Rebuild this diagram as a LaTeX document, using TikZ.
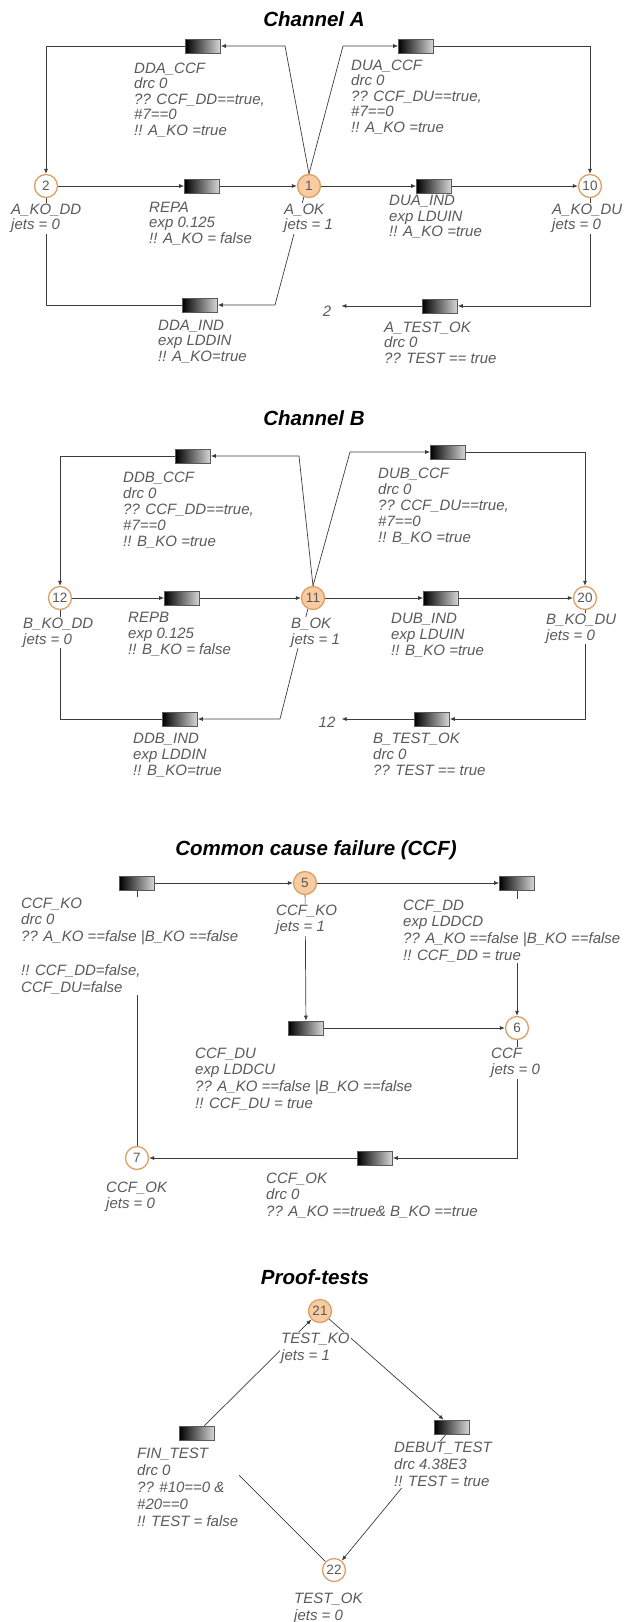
\documentclass[tikz,border=0pt]{standalone}
\usepackage{fontspec}
\setmainfont{Liberation Sans}
\usetikzlibrary{arrows.meta,calc}
\pgfdeclarelayer{bg}
\pgfsetlayers{bg,main}
\definecolor{lblgray}{RGB}{90,90,90}
\definecolor{linegray}{RGB}{60,60,60}
\definecolor{peach}{RGB}{248,204,160}
\definecolor{orangeb}{RGB}{218,160,100}
\definecolor{boxborder}{RGB}{90,90,90}
\newcommand\lblfA{\itshape\fontsize{15}{15.5}\selectfont}
\newcommand\lblfB{\itshape\fontsize{15}{16.2}\selectfont}
\newcommand\lblfC{\itshape\fontsize{15}{16.8}\selectfont}
\newcommand\lblfP{\itshape\fontsize{15}{17.2}\selectfont}
\tikzset{
  place/.style={circle, minimum size=23pt, inner sep=0pt, draw=orangeb, line width=1.3pt, fill=white, text=lblgray, font=\fontsize{13.5}{13.5}\selectfont},
  marked/.style={place, fill=peach},
  trans/.style={rectangle, minimum width=35pt, minimum height=14pt, inner sep=0pt, draw=boxborder, line width=0.6pt, left color=black, right color=white!85!black},
  arc/.style={draw=linegray, line width=0.7pt, -{Latex[length=5pt,width=4pt]}},
  plain/.style={draw=linegray, line width=0.7pt},
  lbl/.style={anchor=north west, align=left, font=\lblfA, text=lblgray, fill=white, inner sep=1pt},
  lblB/.style={lbl, font=\lblfB},
  lblC/.style={lbl, font=\lblfC},
  lblP/.style={lbl, font=\lblfP},
  ttl/.style={font=\bfseries\itshape\fontsize{20.5}{22}\selectfont, text=black},
  endtxt/.style={font=\lblfA, text=lblgray, inner sep=1pt},
}
\begin{document}
\begin{tikzpicture}[x=1pt,y=-1pt]
\useasboundingbox (0,0) rectangle (624,1622);

% ================= Channel A =================
\node[ttl] (tA) at (314,19) {Channel A};
\node[place]  (p2)  at (46,186)  {2};
\node[marked] (p1)  at (309,186) {1};
\node[place]  (p10) at (590,186) {10};
\node[trans] (tDDACCF) at (203,46) {};
\node[trans] (tDUACCF) at (416,46) {};
\node[trans] (tREPA)   at (202,186) {};
\node[trans] (tDUAIND) at (434,186) {};
\node[trans] (tDDAIND) at (200,305) {};
\node[trans] (tATEST)  at (440,306) {};
\node[endtxt] (toA2) at (327,311) {2};
\coordinate (cA1) at (285,46);
\coordinate (cA3) at (343,46);
\coordinate (cA5) at (275,305);

\node[lbl] (lDDACCF) at (133,61.5) {DDA\_CCF\\drc 0\\?? CCF\_DD==true,\\\#7==0\\!! A\_KO =true};
\node[lbl] (lDUACCF) at (350,58.5) {DUA\_CCF\\drc 0\\?? CCF\_DU==true,\\\#7==0\\!! A\_KO =true};
\node[lbl] (lREPA) at (148,200.5) {REPA\\exp 0.125\\!! A\_KO = false};
\node[lbl] (lDUAIND) at (388,194) {DUA\_IND\\exp LDUIN\\!! A\_KO =true};
\node[lbl] (lDDAIND) at (157,318.5) {DDA\_IND\\exp LDDIN\\!! A\_KO=true};
\node[lbl] (lATEST) at (383,320.5) {A\_TEST\_OK\\drc 0\\?? TEST == true};
\node[lbl] (lp2) at (10,202.5) {A\_KO\_DD\\jets = 0};
\node[lbl] (lp1) at (283,202.5) {A\_OK\\jets = 1};
\node[lbl] (lp10) at (551,202.5) {A\_KO\_DU\\jets = 0};

\begin{pgfonlayer}{bg}
\draw[arc] (p1.north) -- (cA1) -- (tDDACCF.east);
\draw[arc] (tDDACCF.west) -| (p2.north);
\draw[arc] (p1.north) -- (cA3) -- (tDUACCF.west);
\draw[arc] (tDUACCF.east) -| (p10.north);
\draw[arc] (p2) -- (tREPA);
\draw[arc] (tREPA) -- (p1);
\draw[arc] (p1) -- (tDUAIND);
\draw[arc] (tDUAIND) -- (p10);
\draw[arc] (p1.245) -- (cA5) -- (tDDAIND.east);
\draw[plain] (tDDAIND.west) -| (p2.south);
\draw[arc] (p10.south) |- (tATEST.east);
\draw[arc, shorten >=9pt] (tATEST.west) -- (tATEST.west -| toA2.east);
\end{pgfonlayer}

% ================= Channel B =================
\node[ttl] (tB) at (314,418) {Channel B};
\node[place]  (p12) at (60,598)  {12};
\node[marked] (p11) at (313,598) {11};
\node[place]  (p20) at (585,598) {20};
\node[trans] (tDDBCCF) at (193,456) {};
\node[trans] (tDUBCCF) at (448,452) {};
\node[trans] (tREPB)   at (182,598) {};
\node[trans] (tDUBIND) at (441,598) {};
\node[trans] (tDDBIND) at (180,719) {};
\node[trans] (tBTEST)  at (432,719) {};
\node[endtxt] (toB12) at (327,722) {12};
\coordinate (cB1) at (299,456);
\coordinate (cB3) at (350,452);
\coordinate (cB5) at (280,719);

\node[lblB] (lDDBCCF) at (122,470.5) {DDB\_CCF\\drc 0\\?? CCF\_DD==true,\\\#7==0\\!! B\_KO =true};
\node[lblB] (lDUBCCF) at (377,466.5) {DUB\_CCF\\drc 0\\?? CCF\_DU==true,\\\#7==0\\!! B\_KO =true};
\node[lblB] (lREPB) at (127,610.5) {REPB\\exp 0.125\\!! B\_KO = false};
\node[lblB] (lDUBIND) at (390,611.5) {DUB\_IND\\exp LDUIN\\!! B\_KO =true};
\node[lblB] (lDDBIND) at (132,731.5) {DDB\_IND\\exp LDDIN\\!! B\_KO=true};
\node[lblB] (lBTEST) at (372,731.5) {B\_TEST\_OK\\drc 0\\?? TEST == true};
\node[lblB] (lp12) at (22,616.5) {B\_KO\_DD\\jets = 0};
\node[lblB] (lp11) at (290,616.5) {B\_OK\\jets = 1};
\node[lblB] (lp20) at (545,612.5) {B\_KO\_DU\\jets = 0};

\begin{pgfonlayer}{bg}
\draw[arc] (p11.north) -- (cB1) -- (tDDBCCF.east);
\draw[arc] (tDDBCCF.west) -| (p12.north);
\draw[arc] (p11.north) -- (cB3) -- (tDUBCCF.west);
\draw[arc] (tDUBCCF.east) -| (p20.north);
\draw[arc] (p12) -- (tREPB);
\draw[arc] (tREPB) -- (p11);
\draw[arc] (p11) -- (tDUBIND);
\draw[arc] (tDUBIND) -- (p20);
\draw[arc] (p11.245) -- (cB5) -- (tDDBIND.east);
\draw[plain] (tDDBIND.west) -| (p12.south);
\draw[arc] (p20.south) |- (tBTEST.east);
\draw[arc, shorten >=5pt] (tBTEST.west) -- (tBTEST.west -| toB12.east);
\end{pgfonlayer}

% ================= CCF =================
\node[ttl] (tC) at (316,850) {Common cause failure (CCF)};
\node[trans] (tCCFKO) at (137,883) {};
\node[marked] (p5) at (305,883) {5};
\node[trans] (tCCFDD) at (517,883) {};
\node[place] (p6) at (517,1028) {6};
\node[trans] (tCCFDU) at (306,1028) {};
\node[place] (p7) at (137,1158) {7};
\node[trans] (tCCFOK) at (375,1158) {};

\node[lblC] (lCCFKO) at (20,896.5) {CCF\_KO\\drc 0\\?? A\_KO ==false |B\_KO ==false\\[16.8pt]!! CCF\_DD=false,\\CCF\_DU=false};
\node[lblC] (lp5) at (275,903.5) {CCF\_KO\\jets = 1};
\node[lblC] (lCCFDD) at (402,898.5) {CCF\_DD\\exp LDDCD\\?? A\_KO ==false |B\_KO ==false\\!! CCF\_DD = true};
\node[lblC] (lCCFDU) at (194,1046.5) {CCF\_DU\\exp LDDCU\\?? A\_KO ==false |B\_KO ==false\\!! CCF\_DU = true};
\node[lblC] (lp6) at (490,1046.5) {CCF\\jets = 0};
\node[lblC] (lCCFOK) at (265,1171.5) {CCF\_OK\\drc 0\\?? A\_KO ==true\& B\_KO ==true};
\node[lblC] (lp7) at (105,1180.5) {CCF\_OK\\jets = 0};

\begin{pgfonlayer}{bg}
\draw[arc] (tCCFKO) -- (p5);
\draw[arc] (p5) -- (tCCFDD);
\draw[arc] (tCCFDD) -- (p6);
\draw[arc] (p5) -- (tCCFDU);
\draw[arc] (tCCFDU) -- (p6);
\draw[arc] (p6.south) |- (tCCFOK.east);
\draw[arc] (tCCFOK) -- (p7);
\draw[plain] (p7) -- (tCCFKO);
\end{pgfonlayer}

% ================= Proof-tests =================
\node[ttl] (tP) at (315,1277) {Proof-tests};
\node[marked] (p21) at (320,1311) {21};
\node[trans] (tFIN) at (197,1433) {};
\node[trans] (tDEBUT) at (452,1427) {};
\node[place] (p22) at (334,1570) {22};

\node[lblP] (lp21) at (280,1331.5) {TEST\_KO\\jets = 1};
\node[lblP] (lFIN) at (136,1446.5) {FIN\_TEST\\drc 0\\?? \#10==0 \&\\\#20==0\\!! TEST = false};
\node[lblP] (lDEBUT) at (393,1440.5) {DEBUT\_TEST\\drc 4.38E3\\!! TEST = true};
\node[lblP] (lp22) at (293,1591.5) {TEST\_OK\\jets = 0};

\begin{pgfonlayer}{bg}
\draw[arc] (tFIN) -- (p21);
\draw[arc] (p21) -- (tDEBUT);
\draw[arc] (tDEBUT) -- (p22);
\draw[plain, shorten >=16pt] (p22) -- (tFIN);
\end{pgfonlayer}
\end{tikzpicture}
\end{document}
